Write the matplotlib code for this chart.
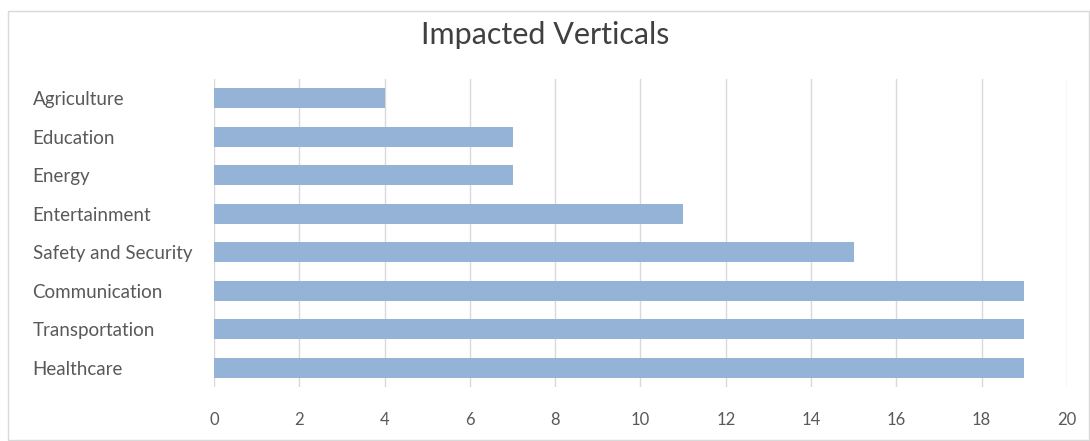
import matplotlib.pyplot as plt
from matplotlib.patches import Rectangle

categories = ['Healthcare', 'Transportation', 'Communication', 'Safety and Security',
              'Entertainment', 'Energy', 'Education', 'Agriculture']
values = [19, 19, 19, 15, 11, 7, 7, 4]

plt.rcParams['font.family'] = ['Lato', 'DejaVu Sans']
text_color = '#595959'

fig = plt.figure(figsize=(10.9, 4.41), dpi=100)
ax = fig.add_axes([0.1963, 0.1224, 0.7826, 0.6985])

ax.barh(range(len(categories)), values, height=0.52, color='#95B3D7', zorder=3)
ax.set_xlim(0, 20)
ax.set_ylim(-0.5, len(categories) - 0.5)
ax.set_xticks(range(0, 21, 2))
ax.set_yticks(range(len(categories)))
ax.set_yticklabels(categories, fontsize=13.5)
ax.grid(axis='x', color='#D9D9D9', linewidth=1, zorder=0)
for s in ax.spines.values():
    s.set_visible(False)
ax.tick_params(length=0, colors=text_color)
ax.tick_params(axis='x', pad=18, labelsize=12)
for lbl in ax.get_yticklabels():
    lbl.set_horizontalalignment('left')
    lbl.set_x(-0.207)

fig.text(0.5, 0.92, 'Impacted Verticals', ha='center', va='center',
         fontsize=22, color='#404040')

# chart area border
fig.patches.append(Rectangle((8 / 1090, 0.002), 1 - 9 / 1090, 1 - 11 / 441 - 0.002,
                             transform=fig.transFigure, fill=False,
                             edgecolor='#D9D9D9', linewidth=1))

fig.savefig('out.png', dpi=100)
